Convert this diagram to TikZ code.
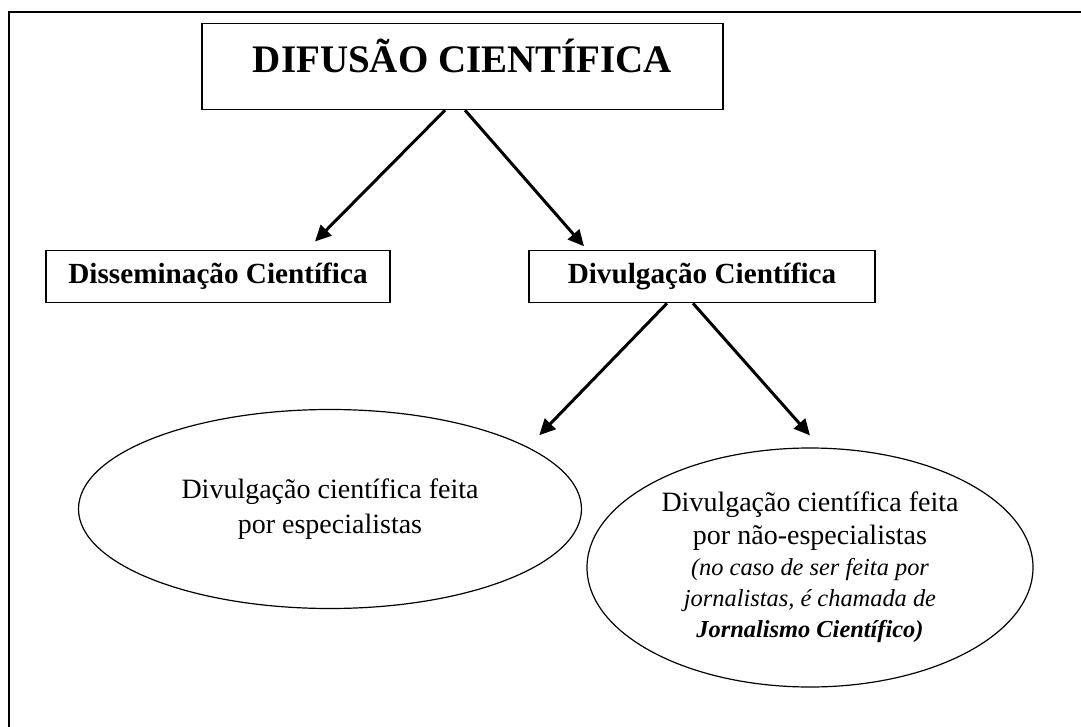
\documentclass[tikz,border=0pt]{standalone}
\usepackage{fontspec}
\setmainfont{Liberation Serif}
\usetikzlibrary{shapes.geometric,arrows.meta}

\begin{document}
\begin{tikzpicture}[
        x=0.5pt, y=-0.5pt,
        box/.style={draw=black, line width=0.6pt, rectangle, inner sep=0pt},
        oval/.style={draw=black, line width=0.6pt, ellipse, inner sep=0pt, align=center},
        arr/.style={line width=1.5pt, -{Triangle[length=8pt,width=7.5pt]}}]
        \useasboundingbox (0,0) rectangle (1081,727);
        % frame
        \draw[line width=0.9pt] (1081,12) -- (9,12) -- (9,727);
        % NODES
        % top box
        \node[box, anchor=north, minimum width=260.5pt, inner ysep=5pt,
              text height=19.5pt, text depth=13.5pt,
              font=\fontsize{19.5}{22}\selectfont\bfseries] (dif) at (462.5,23) {DIFUSÃO CIENTÍFICA};
        % second level
        \node[box, minimum width=172pt, minimum height=26pt,
              font=\fontsize{14.6}{17}\selectfont\bfseries] (dis) at (218,276.7) {Disseminação Científica};
        \node[box, minimum width=173pt, minimum height=26pt,
              font=\fontsize{14.6}{17}\selectfont\bfseries] (div) at (702,276.7) {Divulgação Científica};
        % ellipses
        \node[oval, minimum width=251.5pt, minimum height=99.5pt,
              font=\fontsize{14}{17.5}\selectfont] (esp) at (330,509) {Divulgação científica feita\\por especialistas};
        \node[oval, minimum width=223pt, minimum height=119.5pt,
              font=\fontsize{14}{16.5}\selectfont] (nesp) at (810,567.5) {Divulgação científica feita\\por não-especialistas\\[-1pt]
              \fontsize{12.2}{14.5}\selectfont\itshape (no caso de ser feita por\\[-1pt]
              \fontsize{12.2}{14.5}\selectfont\itshape jornalistas, é chamada de\\[-1pt]
              \fontsize{12.2}{14.5}\selectfont\itshape\bfseries Jornalismo Científico)};

        % ARROWS
        \draw[arr] ([xshift=-8.75pt]dif.south) -- ([xshift=48.5pt, yshift=4.3pt]dis.north);
        \draw[arr] ([xshift=1.25pt]dif.south) -- ([xshift=-59pt, yshift=1.9pt]div.north);
        \draw[arr] ([xshift=-17.5pt]div.south) -- ([xshift=15.5pt, yshift=1.5pt]esp.north east);
        \draw[arr] ([xshift=-4.5pt]div.south) -- ([yshift=6pt]nesp.north);
\end{tikzpicture}
\end{document}
